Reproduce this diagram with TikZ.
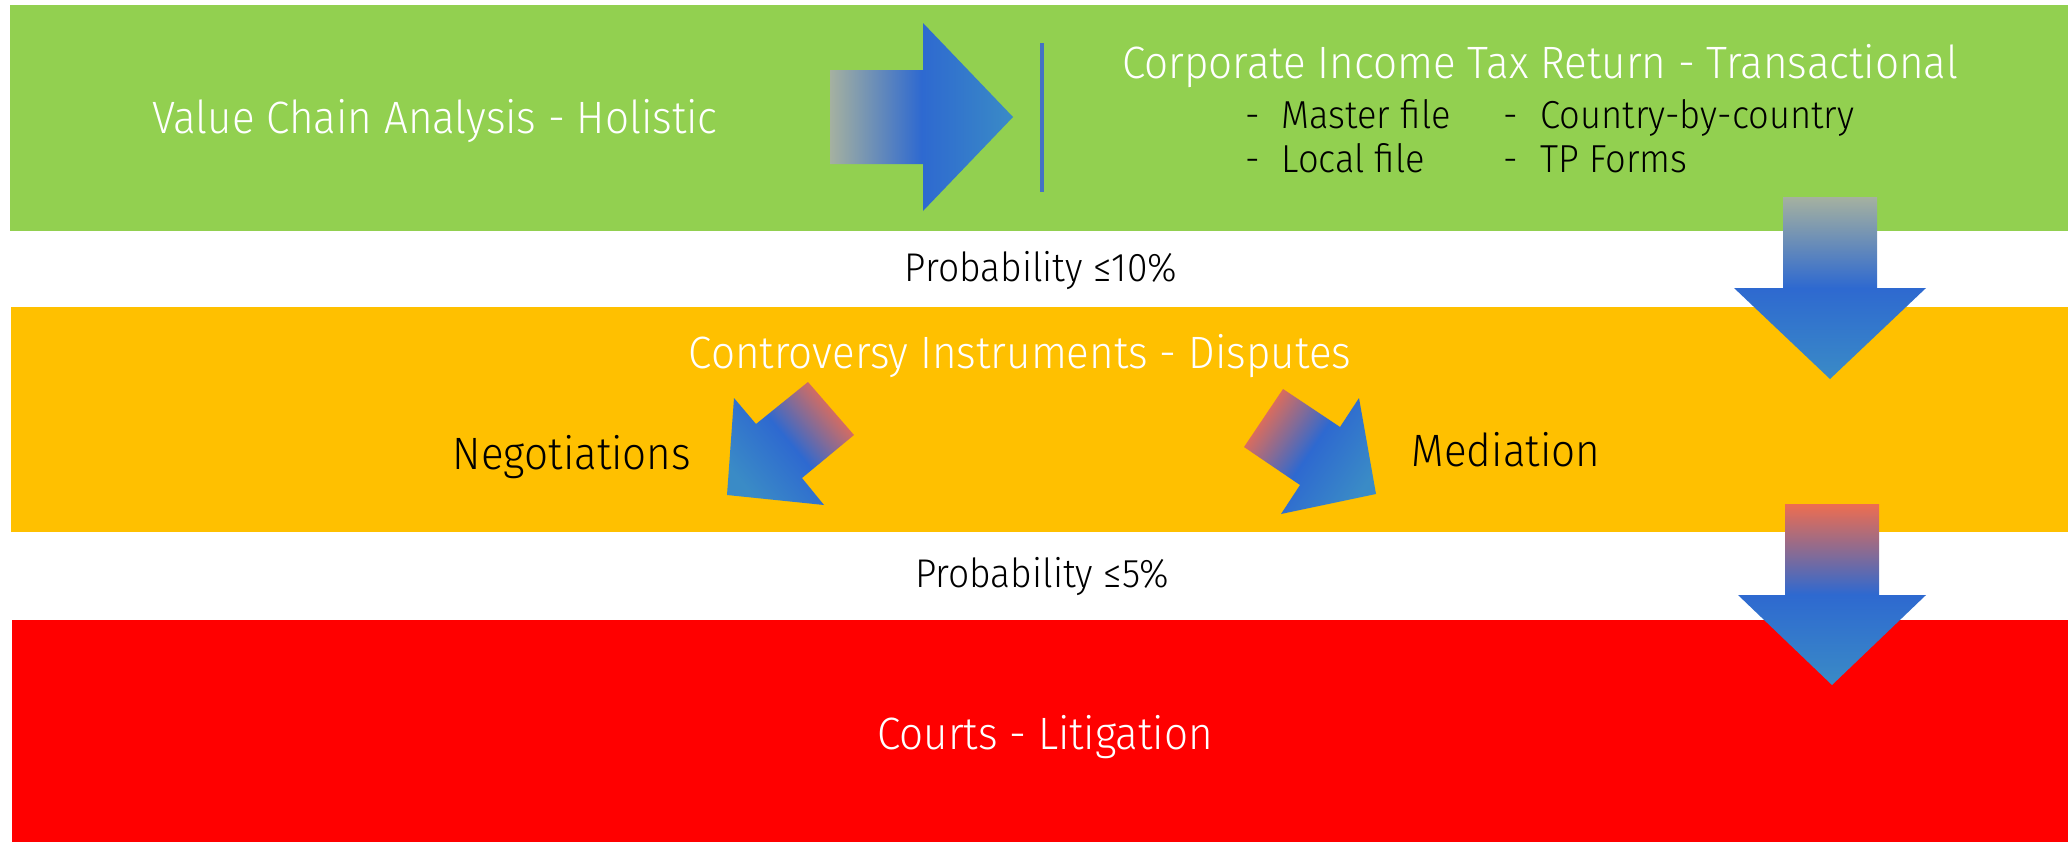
\documentclass[tikz,border=0pt]{standalone}
\usepackage{fontspec}
\setmainfont{Fira Sans Light}[FakeStretch=0.93]
\usepackage{xcolor}
\usepackage{tikz}
\usetikzlibrary{positioning}
\definecolor{bandgreen}{HTML}{92D050}
\definecolor{bandorange}{HTML}{FFC000}
\definecolor{bandred}{HTML}{FF0000}
\definecolor{barblue}{HTML}{4472C4}
\definecolor{tailgrey}{HTML}{A5B1A0}
\definecolor{tailred}{HTML}{EE6D50}
\definecolor{midblue}{HTML}{2E69D0}
\definecolor{tipteal}{HTML}{3A8BC6}
\pgfdeclarehorizontalshading{greyflow}{100bp}{color(0bp)=(tailgrey); color(25bp)=(tailgrey); color(50bp)=(midblue); color(75bp)=(tipteal); color(100bp)=(tipteal)}
\pgfdeclarehorizontalshading{redflow}{100bp}{color(0bp)=(tailred); color(25bp)=(tailred); color(50bp)=(midblue); color(75bp)=(tipteal); color(100bp)=(tipteal)}
\tikzstyle{head} = [text=white, anchor=base, inner sep=0pt, font=\fontsize{12.9}{15}\selectfont]
\tikzstyle{note} = [text=black, anchor=base, inner sep=0pt, font=\fontsize{11.4}{13}\selectfont]
\tikzstyle{item} = [note, anchor=base west, font=\fontsize{11.1}{13}\selectfont]
\tikzstyle{big} = [text=black, anchor=base, inner sep=0pt, font=\fontsize{12.9}{15}\selectfont]
\tikzstyle{greyarrow} = [shading=greyflow]
\tikzstyle{redarrow} = [shading=redflow]

\begin{document}
\begin{tikzpicture}[x=0.1mm, y=-0.1mm]
    \useasboundingbox (0,0) rectangle (2068,842);
    \fill[white] (0,0) rectangle (2068,842);
    \fill[bandgreen] (10,5) rectangle (2068,231);
    \fill[bandorange] (11,307) rectangle (2068,532);
    \fill[bandred] (12,620) rectangle (2068,842);

    \shade[greyarrow, shading angle=0] (830,70) -- (923,70) -- (923,23) -- (1013,117)
        -- (923,211) -- (923,164) -- (830,164) -- cycle;
    \draw[barblue, line width=0.4mm] (1042,43) -- (1042,192);
    \shade[greyarrow, shading angle=-90] (1783,197) -- (1877,197) -- (1877,288) -- (1926,288)
        -- (1830,379) -- (1734,288) -- (1783,288) -- cycle;
    \shade[redarrow, shading angle=-90] (1785,504) -- (1879,504) -- (1879,595) -- (1926,595)
        -- (1832,685) -- (1738,595) -- (1785,595) -- cycle;
    \shade[redarrow, shading angle=220] (808,382) -- (854,435) -- (802,478) -- (824,505)
        -- (727,495) -- (734,398) -- (756,424) -- cycle;
    \shade[redarrow, shading angle=-34] (1283,389) -- (1340,427) -- (1359,398) -- (1376,494)
        -- (1281,514) -- (1300,485) -- (1244,447) -- cycle;

    \node (vca) [head] at (435,133) {Value Chain Analysis - Holistic};
    \node (cit) [head] at (1540,78) {Corporate Income Tax Return - Transactional};
    \node (d1) [item] at (1245,128) {-};
    \node (mf) [item] at (1281,128) {Master file};
    \node (d2) [item] at (1245,172) {-};
    \node (lf) [item] at (1281,172) {Local file};
    \node (d3) [item] at (1503,128) {-};
    \node (cbc) [item] at (1540,128) {Country-by-country};
    \node (d4) [item] at (1503,172) {-};
    \node (tpf) [item] at (1540,172) {TP Forms};
    \node (p10) [note] at (1041,281) {Probability ≤10\%};
    \node (ci) [head] at (1020,368) {Controversy Instruments - Disputes};
    \node (neg) [big] at (572,469) {Negotiations};
    \node (med) [big] at (1506,466) {Mediation};
    \node (p5) [note] at (1042,587) {Probability ≤5\%};
    \node (cl) [head] at (1045,749) {Courts - Litigation};
\end{tikzpicture}
\end{document}
